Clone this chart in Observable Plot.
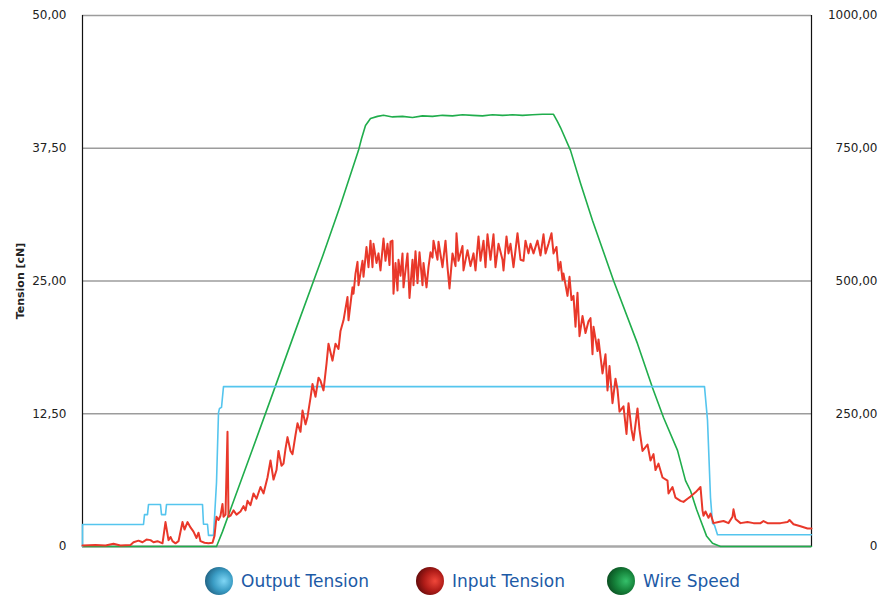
<!DOCTYPE html>
<html>
<head>
<meta charset="utf-8">
<script src="https://cdn.jsdelivr.net/npm/d3@7"></script>
<script src="https://cdn.jsdelivr.net/npm/@observablehq/plot@0.6"></script>
<style>
  html, body { margin: 0; padding: 0; background: #fff; }
  #wrap { width: 878px; height: 595px; overflow: hidden; position: relative; }
  g[aria-label="y-axis label"] text { font-weight: bold; font-size: 11px; }
</style>
</head>
<body>
<div id="wrap"></div>
<script>
// Time samples (arbitrary units across the chart) and values
const yTicks = [0, 12.5, 25, 37.5, 50];
const rightTicks = [0, 250, 500, 750, 1000];

const seriesNames = ["Output Tension", "Input Tension", "Wire Speed"];
const seriesColors = ["#55c5ee", "#e9382a", "#20ad4c"];

// Output Tension [cN]
const outT = [0, 0, 61, 62, 65, 66, 78, 79, 83, 84, 120, 121, 125, 126, 131, 134, 136, 137, 139, 141, 622, 625, 628, 630, 632, 635, 729];
const outV = [0, 2.07, 2.07, 3.0, 3.0, 3.95, 3.95, 3.0, 3.0, 3.95, 3.95, 2.1, 2.1, 1.05, 1.05, 6.0, 12.6, 13.0, 13.1, 15.05, 15.05, 11.9, 4.6, 2.2, 2.0, 1.1, 1.1];

// Input Tension [cN]
const inT = [0, 13, 23, 31, 38, 48, 51, 56, 60, 64, 68, 71, 75, 80, 83, 86, 88, 90, 93, 96,
  100, 102, 105, 108, 111, 114, 116, 118, 122, 126, 130, 132, 134, 136, 138, 140, 141, 143, 145, 146,
  148, 151, 154, 158, 161, 163, 165, 168, 171, 174, 178, 181, 185, 188, 191, 194, 196, 199, 201, 203,
  205, 208, 210, 213, 215, 218, 220, 223, 225, 228, 230, 233, 236, 238, 241, 244, 246, 250, 253, 256,
  258, 261, 265, 266, 270, 271, 273, 275, 276, 280, 281, 284, 286, 288, 290, 291, 294, 296, 298, 301,
  303, 305, 307, 308, 310, 311, 313, 315, 316, 318, 320, 321, 325, 327, 330, 331, 333, 335, 337, 340,
  341, 344, 346, 348, 350, 351, 355, 356, 360, 363, 365, 367, 370, 373, 374, 376, 380, 381, 385, 388,
  391, 393, 396, 398, 401, 403, 405, 408, 411, 413, 416, 420, 421, 424, 426, 428, 431, 435, 438, 441,
  443, 446, 448, 451, 455, 458, 461, 463, 466, 469, 471, 474, 476, 478, 480, 481, 485, 487, 489, 491,
  493, 495, 497, 500, 503, 506, 508, 510, 511, 515, 516, 520, 523, 525, 527, 530, 533, 535, 537, 541,
  544, 546, 549, 551, 555, 557, 560, 565, 568, 571, 573, 576, 580, 585, 586, 590, 593, 598, 601, 605,
  608, 613, 618, 620, 621, 623, 626, 628, 631, 636, 641, 646, 650, 651, 653, 658, 665, 671, 678, 681,
  685, 691, 698, 705, 707, 711, 718, 725, 729];
const inV = [0.1, 0.15, 0.1, 0.25, 0.1, 0.15, 0.4, 0.55, 0.4, 0.65, 0.6, 0.4, 0.5, 0.3, 2.3, 0.6, 0.9, 0.5, 0.3, 0.5,
  2.3, 1.6, 2.3, 1.8, 1.4, 0.8, 1.3, 0.5, 0.35, 0.3, 0.35, 1.0, 2.8, 2.5, 2.9, 4.0, 2.8, 3.0, 10.8, 2.8,
  2.9, 3.4, 3.0, 3.3, 3.8, 3.4, 4.3, 3.9, 5.0, 4.5, 5.6, 5.0, 6.5, 8.1, 6.3, 7.2, 9.0, 7.6, 7.8, 9.2,
  10.3, 9.0, 8.7, 10.5, 11.6, 10.8, 12.8, 11.5, 12.2, 14.0, 15.3, 14.1, 15.9, 15.6, 14.7, 17.2, 19.1, 17.5, 19.1, 18.6,
  20.3, 21.3, 23.5, 21.3, 24.4, 23.8, 25.7, 26.8, 24.6, 26.9, 25.4, 28.2, 26.3, 28.8, 26.3, 28.5, 26.7, 27.6, 26.0, 29.0,
  26.9, 28.5, 26.5, 28.7, 28.8, 23.8, 26.7, 24.1, 27.0, 25.5, 27.6, 24.4, 27.6, 23.4, 27.0, 24.6, 27.8, 24.8, 27.7, 24.6,
  26.7, 24.4, 26.3, 27.7, 27.2, 28.8, 27.0, 28.7, 26.3, 28.8, 26.3, 24.3, 27.6, 26.4, 29.5, 26.9, 28.3, 26.0, 27.9, 26.4,
  27.6, 26.0, 29.2, 26.9, 28.8, 26.3, 29.4, 27.0, 29.4, 26.3, 28.5, 27.0, 26.0, 29.2, 27.6, 28.5, 26.3, 29.5, 27.0, 26.9,
  28.8, 27.6, 28.5, 27.6, 28.8, 27.4, 29.4, 27.6, 28.5, 29.5, 27.6, 28.2, 26.0, 26.8, 25.1, 25.7, 23.6, 25.4, 23.2, 23.6,
  20.7, 23.9, 19.8, 21.7, 20.1, 21.2, 21.5, 18.1, 20.7, 18.4, 19.5, 16.3, 18.1, 14.7, 17.0, 13.5, 15.8, 14.8, 12.7, 13.2,
  10.6, 13.5, 11.0, 10.0, 13.0, 11.0, 9.0, 9.6, 8.1, 8.7, 7.2, 7.8, 6.5, 6.2, 5.0, 5.6, 4.6, 4.3, 4.2, 4.5,
  4.7, 5.1, 5.6, 3.4, 2.9, 3.3, 2.7, 3.1, 2.2, 2.3, 2.4, 2.2, 2.8, 3.5, 2.6, 2.2, 2.3, 2.2, 2.2, 2.4,
  2.2, 2.2, 2.2, 2.3, 2.5, 2.1, 1.9, 1.7, 1.7];

// Wire Speed (right axis, 0..1000)
const speedT = [0, 134, 140, 150, 170, 190, 213, 240, 258, 276, 279, 283, 288, 295, 301, 310, 320, 330, 340, 350,
  360, 370, 380, 390, 400, 410, 420, 430, 440, 450, 460, 471, 475, 478, 488, 498, 510, 531, 555, 570,
  581, 595, 603, 608, 614, 618, 624, 630, 638, 729];
const speedV = [0, 0, 28, 80, 183, 287, 407, 546, 643, 746, 768, 793, 806, 810, 812, 809, 810, 808, 811, 810,
  812, 811, 813, 812, 811, 813, 812, 813, 812, 813, 814, 814, 800, 789, 746, 684, 614, 501, 382, 299,
  243, 181, 124, 105, 70, 50, 20, 6, 0, 0];

const outData = outT.map((t, i) => ({t, v: outV[i]}));
const inData = inT.map((t, i) => ({t, v: inV[i]}));
const speedData = speedT.map((t, i) => ({t, v: speedV[i] / 20}));

const fmtL = d => d === 0 ? "0" : d.toFixed(2).replace(".", ",");
const fmtR = d => d === 0 ? "0" : (d * 20).toFixed(2).replace(".", ",");

const chart = Plot.plot({
  width: 878,
  height: 560,
  marginTop: 15,
  marginBottom: 14,
  marginLeft: 82,
  marginRight: 67,
  style: {fontFamily: "DejaVu Sans", fontSize: "12px", color: "#222", background: "#fff"},
  x: {domain: [0, 729], axis: null},
  y: {domain: [0, 50]},
  marks: [
    Plot.ruleY(yTicks.slice(1), {stroke: "#9c9c9c", strokeWidth: 1.6}),
    Plot.ruleY([0], {stroke: "#a8a8a8", strokeWidth: 2.6}),
    Plot.ruleX([0, 729], {stroke: "#111", strokeWidth: 1.2}),
    Plot.axisY({anchor: "left", ticks: yTicks, tickSize: 0, tickPadding: 16, tickFormat: fmtL,
      label: "Tension [cN]", labelAnchor: "center", labelOffset: 66, labelArrow: "none"}),
    Plot.axisY({anchor: "right", ticks: yTicks, tickSize: 0, tickPadding: 66, textAnchor: "end",
      tickFormat: fmtR, label: null}),
    Plot.line(speedData, {x: "t", y: "v", stroke: seriesColors[2], strokeWidth: 1.6}),
    Plot.line(outData, {x: "t", y: "v", stroke: seriesColors[0], strokeWidth: 1.6}),
    Plot.line(inData, {x: "t", y: "v", stroke: seriesColors[1], strokeWidth: 2})
  ]
});

const wrap = document.getElementById("wrap");
wrap.appendChild(chart);

// Legend
const legendX = [219, 430, 621];
const grads = [["#7fd6f5", "#3a9cc4", "#1f5f80"], ["#f0473a", "#b01c18", "#5e0a0a"], ["#35c06a", "#15823a", "#0a4a1f"]];
const ns = "http://www.w3.org/2000/svg";
const leg = document.createElementNS(ns, "svg");
leg.setAttribute("width", 878);
leg.setAttribute("height", 35);
leg.style.display = "block";
let defs = `<defs>`;
grads.forEach((g, i) => {
  defs += `<radialGradient id="g${i}" cx="0.62" cy="0.5" r="0.65" fx="0.68" fy="0.5">
    <stop offset="0" stop-color="${g[0]}"/><stop offset="0.55" stop-color="${g[1]}"/><stop offset="1" stop-color="${g[2]}"/></radialGradient>`;
});
defs += `</defs>`;
let body = defs;
seriesNames.forEach((name, i) => {
  body += `<circle cx="${legendX[i]}" cy="21" r="14" fill="url(#g${i})"/>`;
  body += `<text x="${legendX[i] + 22}" y="21" dy="0.35em" font-family="DejaVu Sans" font-size="17" fill="#1c5aa6">${name}</text>`;
});
leg.innerHTML = body;
wrap.appendChild(leg);
</script>
</body>
</html>
